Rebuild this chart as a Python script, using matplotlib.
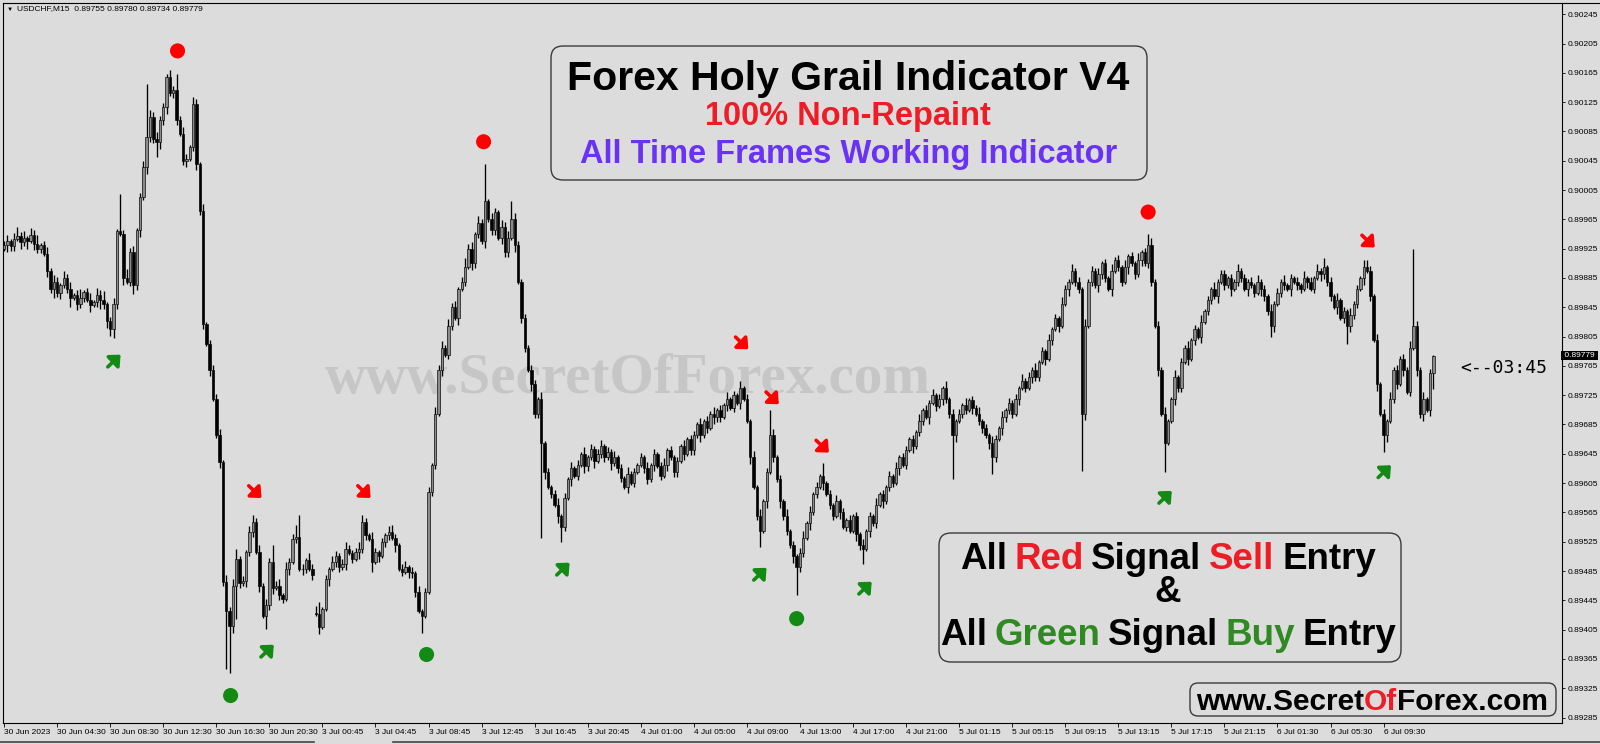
import numpy as np
import matplotlib
matplotlib.use('Agg')
import matplotlib.pyplot as plt
from matplotlib.patches import FancyBboxPatch
from matplotlib.lines import Line2D
from matplotlib.transforms import ScaledTranslation, blended_transform_factory

plt.rcParams['font.family'] = ['Liberation Sans', 'DejaVu Sans']

# closes in points above 0.89000, 16 bars (4 hours of M15) per row
CLOSE_ROWS = [
    "930 935 928 938 942 934 940 936 944 932 925 930 918 895 870 880",
    "865 875 885 870 858 862 850 858 866 855 848 852 862 855 849 826",
    "815 849 949 945 885 880 920 875 950 995 1036 1077 1105 1075 1070 1100",
    "1118 1160 1137 1141 1100 1082 1045 1048 1064 1123 1041 977 822 795 760 720",
    "670 634 470 430 410 465 502 468 472 511 538 552 511 465 424 438",
    "497 462 465 452 447 488 497 529 531 488 488 500 488 479 426 408",
    "433 474 488 497 506 490 495 515 510 502 511 515 552 534 529 497",
    "511 506 524 534 538 530 520 488 484 490 484 482 456 430 424 456",
    "593 630 700 760 790 780 820 845 830 870 880 900 925 905 945 960",
    "935 990 965 950 975 940 955 920 940 965 930 880 830 790 760 740",
    "700 720 660 620 600 590 575 560 545 585 610 625 615 630 645 628",
    "640 652 635 645 655 640 648 632 640 625 612 600 618 605 620 630",
    "640 625 610 630 645 628 615 630 650 640 620 635 655 645 665 650",
    "670 685 670 690 680 700 695 705 695 712 720 708 725 715 735 720",
    "690 640 600 560 540 580 620 670 640 610 580 560 540 520 505 490",
    "510 530 550 565 590 600 615 605 590 575 560 580 565 545 555 540",
    "560 535 520 515 540 560 550 575 590 580 600 615 605 625 640 630",
    "650 665 655 675 690 705 695 715 725 710 720 735 720 700 670 690",
    "700 712 705 718 708 700 690 680 670 660 640 665 680 695 705 715",
    "700 720 735 745 735 750 760 750 770 785 775 800 815 830 820 850",
    "870 880 895 880 870 700 820 880 895 875 890 905 885 870 895 910",
    "900 880 900 915 905 890 910 920 905 930 880 820 760 700 660 690",
    "720 750 735 770 790 775 800 815 805 825 840 855 870 860 880 890",
    "875 885 870 880 895 885 870 880 875 865 880 870 860 840 820 850",
    "865 880 875 870 885 880 875 870 885 880 870 885 895 890 900 880",
    "860 845 855 830 840 820 835 850 870 885 900 895 860 800 740 700",
    "670 690 720 760 740 775 760 730 790 820 760 700 720 705 755 779",
]

# wick lengths, one digit per bar, 3 points per unit
UP_ROWS = [
    "2313 4231 3241 2313", "2132 3124 1231 3241", "2313 2423 1231 3232",
    "2132 3232 1321 3122", "2313 2321 2131 2313", "2123 1322 1321 3231",
    "1213 2123 2123 1213", "2121 3121 2312 1312", "2132 3132 3124 2313",
    "2313 2132 3132 1212", "2131 2123 1213 1213", "1212 3121 3121 3121",
    "2131 2123 1212 1312", "2131 2131 2131 2131", "2131 3121 3121 3121",
    "2313 1213 1213 1212", "1213 1213 1212 1312", "2121 3121 3121 3121",
    "2131 2131 2132 1312", "1213 1213 1213 1213", "2131 2131 2131 2131",
    "2131 2131 2131 2131", "1312 1312 1312 1312", "2121 3121 2131 2131",
    "2131 2121 3121 3121", "2131 2131 2131 2131", "2131 2121 3121 3121",
]
DN_ROWS = [
    "1322 1324 1322 1324", "2312 4132 2131 2423", "3221 3124 2313 2213",
    "2312 2123 1232 2131", "1322 1312 1322 1312", "2312 2131 2132 1213",
    "2131 2213 1213 2212", "1312 2131 2132 2131", "1221 3122 1312 1322",
    "1312 2132 2131 2213", "2213 1213 2213 1213", "2131 2213 1221 3121",
    "1221 3121 3122 1312", "2131 2132 2131 2131", "1312 2131 2132 2131",
    "2213 1213 1221 3121", "1322 1312 1312 2131", "2131 2213 1213 2213",
    "1221 3122 1312 1322", "2131 2132 2131 2131", "1312 2131 2132 2131",
    "2213 1213 1221 3121", "1322 1312 1312 2131", "2131 2213 1213 2213",
    "1221 3122 1312 1322", "2131 2132 2131 2131", "1312 2131 2132 2131",
]

open_fix = {0: 925, 94: 428}
high_fix = {35: 1000, 43: 1150, 49: 1164, 52: 1164, 70: 515, 75: 561, 81: 520,
            88: 548, 89: 561, 95: 442, 108: 561, 117: 548, 145: 1040, 153: 990,
            222: 745, 231: 705, 247: 632, 345: 945, 398: 912, 411: 910, 425: 925,
            431: 780}
low_fix = {33: 803, 46: 1050, 67: 351, 68: 346, 70: 420, 79: 406, 96: 406,
           111: 483, 126: 401, 162: 530, 168: 525, 228: 518, 239: 452, 259: 495,
           286: 610, 298: 618, 325: 622, 350: 620, 382: 805, 405: 795, 416: 648,
           428: 690, 431: 734}

# signals (bar position, price)
sell_dot_x = [52.3, 144.6, 345.0]
sell_dot_y = [0.90195, 0.90071, 0.89975]
buy_dot_x = [68.3, 127.4, 239.0]
buy_dot_y = [0.89315, 0.89371, 0.89420]
sell_arrow_x = [75.7, 108.6, 222.5, 231.7, 246.8, 411.4]
sell_arrow_y = [0.89593, 0.89593, 0.89796, 0.89721, 0.89655, 0.89935]
buy_arrow_x = [33.2, 79.4, 168.6, 228.0, 259.7, 350.2, 416.3]
buy_arrow_y = [0.89772, 0.89376, 0.89488, 0.89481, 0.89462, 0.89586, 0.89621]

x_labels = ['30 Jun 2023', '30 Jun 04:30', '30 Jun 08:30', '30 Jun 12:30', '30 Jun 16:30',
            '30 Jun 20:30', '3 Jul 00:45', '3 Jul 04:45', '3 Jul 08:45', '3 Jul 12:45',
            '3 Jul 16:45', '3 Jul 20:45', '4 Jul 01:00', '4 Jul 05:00', '4 Jul 09:00',
            '4 Jul 13:00', '4 Jul 17:00', '4 Jul 21:00', '5 Jul 01:15', '5 Jul 05:15',
            '5 Jul 09:15', '5 Jul 13:15', '5 Jul 17:15', '5 Jul 21:15', '6 Jul 01:30',
            '6 Jul 05:30', '6 Jul 09:30']
y_ticks = [0.89285 + 0.0004 * k for k in range(25)]
last_price = 0.89779

# ---- build OHLC
closes = np.array([int(v) for row in CLOSE_ROWS for v in row.split()], dtype=float)
n = len(closes)
up = np.array([int(c) for c in ''.join(UP_ROWS).replace(' ', '')][:n]) * 3
dn = np.array([int(c) for c in ''.join(DN_ROWS).replace(' ', '')][:n]) * 3
opens = np.r_[closes[0], closes[:-1]]
for i, v in open_fix.items():
    opens[i] = v
body_top = np.maximum(opens, closes)
body_bot = np.minimum(opens, closes)
highs = body_top + up
lows = body_bot - dn
for i, v in high_fix.items():
    highs[i] = max(v, body_top[i])
for i, v in low_fix.items():
    lows[i] = min(v, body_bot[i])
o = 0.89 + opens * 1e-5
c = 0.89 + closes * 1e-5
h = 0.89 + highs * 1e-5
l = 0.89 + lows * 1e-5
x = np.arange(n)

W, H = 1600, 744
bg = '#dcdcdc'


def fx(v):
    return v / W


def fy(v):
    return 1 - v / H


fig = plt.figure(figsize=(16, 7.44), dpi=100)
fig.patch.set_facecolor(bg)
ax = fig.add_axes([fx(3), fy(723), fx(1562) - fx(3), fy(3) - fy(723)])
ax.set_facecolor(bg)
ax.set_xlim(-0.33, 469.8)
ax.set_ylim(0.892775, 0.902604)
for s in ax.spines.values():
    s.set_color('black')
    s.set_linewidth(0.8)

# watermark behind the candles
ax.text(fx(628), fy(393), 'www.SecretOfForex.com', transform=fig.transFigure,
        family='Liberation Serif', fontweight='bold', fontsize=41, color='#c6c6c6',
        ha='center', va='baseline', zorder=0.5)

# candles
ax.vlines(x, l, h, color='black', lw=0.95, zorder=2)
bull = c >= o
hgt = np.maximum(np.abs(c - o), 0.000004)
ax.bar(x[bull], hgt[bull], bottom=np.minimum(o, c)[bull], width=0.72,
       color='#8a8a8a', edgecolor='black', linewidth=0.45, zorder=3)
ax.bar(x[~bull], hgt[~bull], bottom=np.minimum(o, c)[~bull], width=0.72,
       color='black', edgecolor='black', linewidth=0.45, zorder=3)

# signals
ax.scatter(sell_dot_x, sell_dot_y, s=118, color='#ff0000', edgecolors='none', zorder=5)
ax.scatter(buy_dot_x, buy_dot_y, s=118, color='#138a13', edgecolors='none', zorder=5)


def arrow(xc, yc, color, rising):
    sy = 1 if rising else -1
    tr = ax.transData + ScaledTranslation(4.6 / 72, sy * 4.4 / 72, fig.dpi_scale_trans)
    ax.annotate('', xy=(xc, yc), xycoords=tr, xytext=(-9.2, -sy * 8.8),
                textcoords='offset points', zorder=5,
                arrowprops=dict(arrowstyle='-|>,head_length=0.55,head_width=0.5',
                                color=color, lw=2.6, mutation_scale=10,
                                shrinkA=0, shrinkB=0))


for xa, ya in zip(sell_arrow_x, sell_arrow_y):
    arrow(xa, ya, '#ff0000', False)
for xa, ya in zip(buy_arrow_x, buy_arrow_y):
    arrow(xa, ya, '#138a13', True)

# axes
ax.yaxis.tick_right()
ax.set_yticks(y_ticks)
ax.set_yticklabels([f'{t:.5f}' for t in y_ticks])
ax.tick_params(axis='y', length=2.5, width=0.6, pad=1.5, labelsize=6, colors='black')
ax.set_xticks(np.arange(len(x_labels)) * 16)
ax.set_xticklabels(x_labels)
ax.tick_params(axis='x', length=3, width=0.6, pad=1.5, labelsize=6, colors='black')
for lbl in ax.get_xticklabels():
    lbl.set_ha('left')

ax.text(1.0, last_price, ' 0.89779 ', transform=blended_transform_factory(ax.transAxes, ax.transData),
        ha='left', va='center', color='white', fontsize=6, clip_on=False, zorder=6,
        bbox=dict(facecolor='black', edgecolor='none', pad=0.6))

# header
fig.text(fx(7), fy(9), '\u25bc', fontsize=4.5, va='center', color='black')
fig.text(fx(17), fy(9), 'USDCHF,M15  0.89755 0.89780 0.89734 0.89779', fontsize=6,
         va='center', color='black')

fig.text(fx(1460), fy(373), '<--03:45', family='DejaVu Sans Mono', fontsize=13,
         ha='left', va='baseline', color='black')

# frame lines
fig.add_artist(Line2D([fx(1562), 1], [fy(3), fy(3)], color='black', lw=0.8))
fig.add_artist(Line2D([0, fx(314)], [fy(741.5)] * 2, color='#444444', lw=1.2))
fig.add_artist(Line2D([fx(393), 1], [fy(741.5)] * 2, color='#444444', lw=1.2))


def rbox(x0, y0, x1, y1, r=0.12):
    p = FancyBboxPatch((x0 / 100, (H - y1) / 100), (x1 - x0) / 100, (y1 - y0) / 100,
                       boxstyle=f'round,pad=0,rounding_size={r}',
                       transform=fig.dpi_scale_trans, facecolor=bg,
                       edgecolor='#3a3a3a', lw=1.0, zorder=4)
    fig.add_artist(p)


renderer = fig.canvas.get_renderer()


def colored(parts, xc, yb, size, gap=True):
    ts = [fig.text(0, fy(yb), s, fontsize=size, fontweight='bold', color=col,
                   ha='left', va='baseline', zorder=6) for s, col in parts]
    ws = [t.get_window_extent(renderer).width for t in ts]
    sp = 0
    if gap:
        a = fig.text(0, 0, 'A A', fontsize=size, fontweight='bold')
        b = fig.text(0, 0, 'AA', fontsize=size, fontweight='bold')
        sp = a.get_window_extent(renderer).width - b.get_window_extent(renderer).width
        a.remove()
        b.remove()
    total = sum(ws) + sp * (len(ts) - 1)
    xp = xc - total / 2
    for t, w in zip(ts, ws):
        t.set_x(fx(xp))
        xp += w + sp


red = '#ee1c24'
green = '#2f8a22'
purple = '#6a32f2'

rbox(551, 46, 1147, 180)
colored([('Forex Holy Grail Indicator V4', 'black')], 848, 90.5, 29.5)
colored([('100% Non-Repaint', red)], 848, 125.5, 23.5)
colored([('All Time Frames Working Indicator', purple)], 849, 163.5, 23.5)

rbox(939, 533, 1401, 662)
colored([('All', 'black'), ('Red', red), ('Signal', 'black'), ('Sell', red), ('Entry', 'black')],
        1168, 569, 26.5)
colored([('&', 'black')], 1168, 602, 26.5)
colored([('All', 'black'), ('Green', green), ('Signal', 'black'), ('Buy', green), ('Entry', 'black')],
        1168, 645, 26.5)

rbox(1190, 683, 1556, 716, r=0.08)
colored([('www.Secret', 'black'), ('Of', red), ('Forex.com', 'black')], 1372, 710, 21.5, gap=False)

fig.savefig('out.png', dpi=100, facecolor=bg)
